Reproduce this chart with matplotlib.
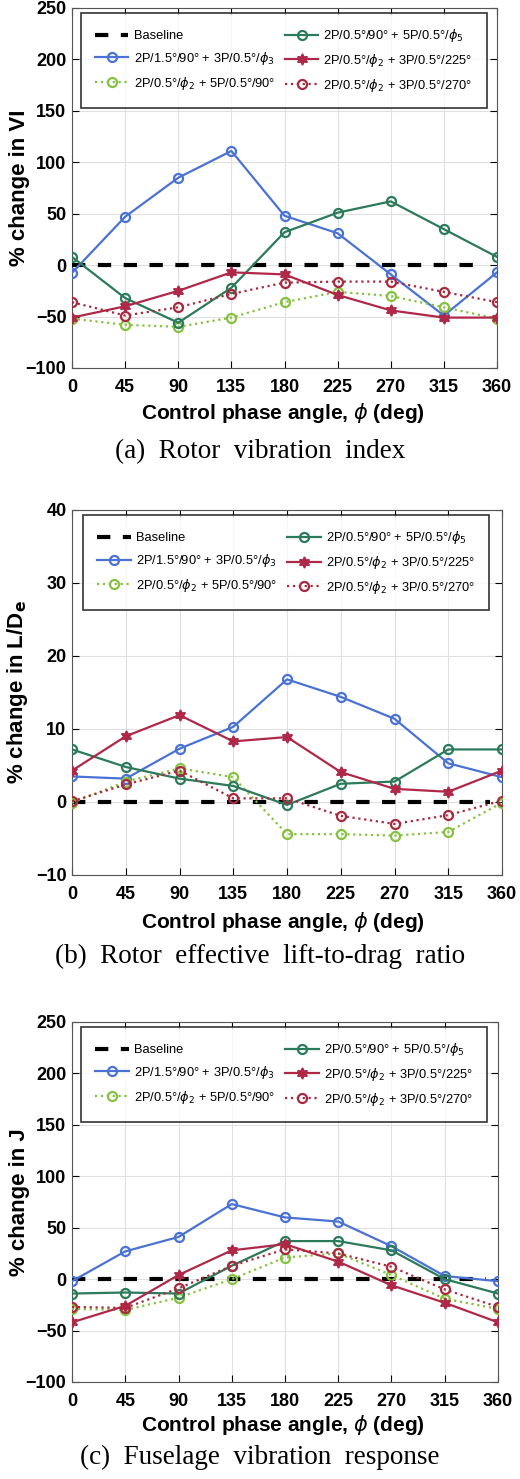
import numpy as np
import matplotlib.pyplot as plt
from matplotlib.legend_handler import HandlerLine2D
from matplotlib.lines import Line2D

phase = [0, 45, 90, 135, 180, 225, 270, 315, 360]

# (a) rotor vibration index
vi_blue = [-7.5, 47, 85, 111, 48, 31, -9, -49, -7]
vi_dgreen = [8, -32, -56, -22, 32, 51, 62, 35, 8]
vi_lgreen = [-52, -58, -60, -51, -36, -26, -30, -41, -52]
vi_red = [-51, -40, -25, -7, -9, -29, -44, -51, -51]
vi_reddot = [-36, -49, -41, -28, -17, -16, -16, -26, -36]

# (b) rotor effective L/D
ld_blue = [3.5, 3.2, 7.3, 10.3, 16.8, 14.4, 11.4, 5.3, 3.4]
ld_dgreen = [7.2, 4.8, 3.2, 2.2, -0.4, 2.5, 2.8, 7.2, 7.2]
ld_lgreen = [-0.1, 2.8, 4.6, 3.4, -4.4, -4.4, -4.6, -4.1, -0.1]
ld_red = [4.3, 9.0, 11.9, 8.3, 8.9, 4.1, 1.8, 1.4, 4.3]
ld_reddot = [0.1, 2.4, 4.3, 0.5, 0.5, -1.9, -3.0, -1.8, 0.2]

# (c) fuselage vibration response
j_blue = [-2, 27, 41, 73, 60, 56, 32, 3, -2]
j_dgreen = [-14, -13, -14, 13, 37, 37, 28, 0, -14]
j_lgreen = [-29, -30, -18, 0, 21, 25, 4, -19, -29]
j_red = [-42, -26, 4, 28, 34, 17, -6, -23, -42]
j_reddot = [-27, -28, -9, 13, 29, 25, 12, -10, -27]

labels = ['Baseline',
          r'2P/1.5°/90° + 3P/0.5°/$\phi_3$',
          r'2P/0.5°/$\phi_2$ + 5P/0.5°/90°',
          r'2P/0.5°/90° + 5P/0.5°/$\phi_5$',
          r'2P/0.5°/$\phi_2$ + 3P/0.5°/225°',
          r'2P/0.5°/$\phi_2$ + 3P/0.5°/270°']

c_blue = '#4a72d4'
c_dgreen = '#2b7a5a'
c_lgreen = '#86c240'
c_red = '#b02848'
c_reddot = '#a82a3e'

plt.rcParams['font.family'] = ['Liberation Sans', 'DejaVu Sans']
plt.rcParams['mathtext.fontset'] = 'dejavusans'


# legend handles with the marker at the right end of the line (MATLAB look)
class EndMarker(HandlerLine2D):
    def get_xdata(self, legend, xdescent, ydescent, width, height, fontsize):
        return [-xdescent, -xdescent + width], [-xdescent + width]


W, H = 520, 1479
fig = plt.figure(figsize=(W / 100, H / 100), dpi=100)


def rect(l, r, t, b):
    return [l / W, 1 - b / H, (r - l) / W, (b - t) / H]


panels = [
    (rect(72, 497, 8, 368), (-100, 250), range(-100, 251, 50),
     '% change in VI', (vi_blue, vi_lgreen, vi_dgreen, vi_red, vi_reddot),
     '(a)  Rotor  vibration  index', 413, 452),
    (rect(72, 502, 510, 875), (-10, 40), range(-10, 41, 10),
     '% change in L/D$_\\mathbf{e}$', (ld_blue, ld_lgreen, ld_dgreen, ld_red, ld_reddot),
     '(b)  Rotor  effective  lift-to-drag  ratio', 922, 956),
    (rect(72, 498, 1022, 1382), (-100, 250), range(-100, 251, 50),
     '% change in J', (j_blue, j_lgreen, j_dgreen, j_red, j_reddot),
     '(c)  Fuselage  vibration  response', 1425, 1457),
]

for r, ylim, yticks, ylab, series, cap, xl_y, cap_y in panels:
    ax = fig.add_axes(r)
    blue, lgreen, dgreen, red, reddot = series
    h0, = ax.plot([0, 350], [0, 0], color='black', lw=3, ls=(0, (3.2, 3)), zorder=3)
    h1, = ax.plot(phase, blue, color=c_blue, lw=1.6, marker='o', ms=6.5,
                  mfc='none', mew=1.6, zorder=4)
    h2, = ax.plot(phase, lgreen, color=c_lgreen, lw=1.6, ls=':', marker='o', ms=6.5,
                  mfc='none', mew=1.6, zorder=4)
    h3, = ax.plot(phase, dgreen, color=c_dgreen, lw=1.6, marker='o', ms=6.5,
                  mfc='none', mew=1.6, zorder=4)
    h4, = ax.plot(phase, red, color=c_red, lw=1.6, marker=(6, 1, 0), ms=8,
                  mew=1.2, zorder=4)
    h5, = ax.plot(phase, reddot, color=c_reddot, lw=1.6, ls=':', marker='o', ms=6.5,
                  mfc='none', mew=1.6, zorder=4)
    ax.set_xlim(0, 360)
    ax.set_ylim(*ylim)
    ax.set_xticks(phase)
    ax.set_yticks(list(yticks))
    ax.grid(True, color='#e0e0e0', lw=0.8)
    ax.tick_params(direction='in', top=True, right=True, length=5, labelsize=13)
    ax.tick_params(axis='x', pad=8)
    ax.tick_params(axis='y', pad=4)
    for t in ax.get_xticklabels() + ax.get_yticklabels():
        t.set_fontweight('bold')
    for s in ax.spines.values():
        s.set_color('#555555')
    ax.set_ylabel(ylab, fontsize=16, fontweight='bold')
    ax.yaxis.set_label_coords(-42 / (r[2] * W), 0.5)
    leg = ax.legend([h0, h1, h2, h3, h4, h5], labels, ncol=2, loc='upper center',
                    bbox_to_anchor=(0.498, 0.986), borderaxespad=0,
                    fontsize=9.3, frameon=True, fancybox=False, edgecolor='black',
                    handlelength=2.6, columnspacing=0.8, handletextpad=0.4,
                    labelspacing=0.6, borderpad=1.1,
                    handler_map={Line2D: EndMarker()})
    leg.get_frame().set_linewidth(1.2)
    fig.text(0.545, 1 - xl_y / H, r'Control phase angle, $\phi$ (deg)', ha='center',
             va='center', fontsize=15, fontweight='bold')
    fig.text(0.5, 1 - cap_y / H, cap, ha='center', va='center', fontsize=19.5,
             family=['Liberation Serif', 'DejaVu Serif'])

fig.savefig('out.png', dpi=100)
